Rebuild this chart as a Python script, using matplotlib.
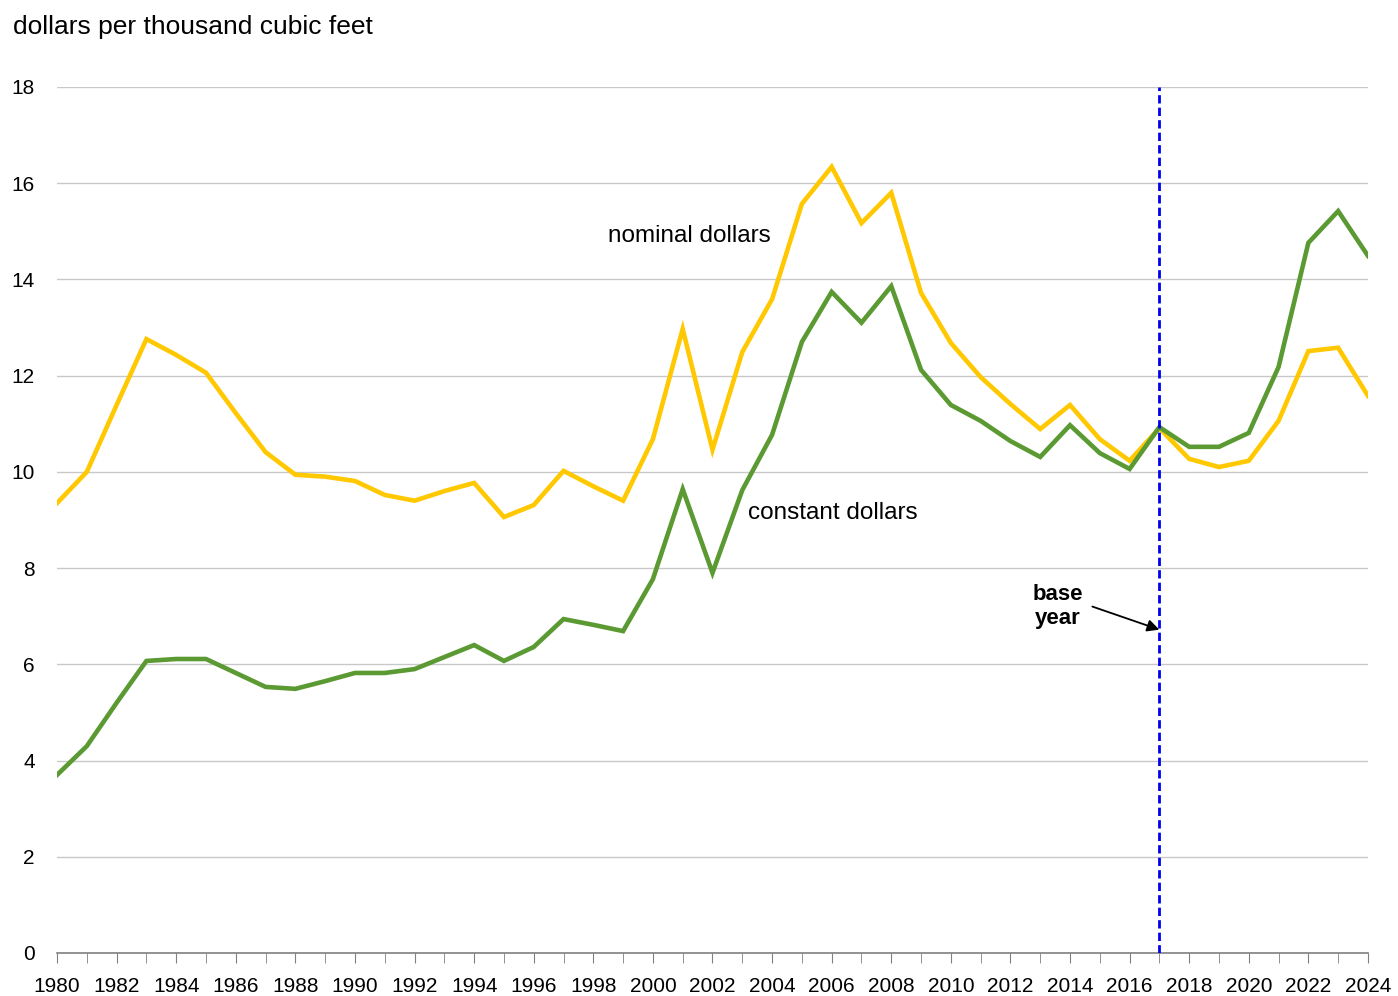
import numpy as np
import matplotlib
matplotlib.use("Agg")
import matplotlib.pyplot as plt

years = np.arange(1980, 2025)

nominal = [9.35, 10.0, 11.39, 12.76, 12.43, 12.06, 11.22, 10.41, 9.94, 9.9,
           9.81, 9.52, 9.4, 9.6, 9.77, 9.06, 9.31, 10.02, 9.7, 9.4,
           10.68, 12.97, 10.46, 12.49, 13.59, 15.57, 16.34, 15.17, 15.8, 13.72,
           12.68, 11.97, 11.41, 10.89, 11.39, 10.68, 10.23, 10.91, 10.27, 10.1,
           10.23, 11.06, 12.51, 12.58, 11.58]

constant = [3.7, 4.3, 5.2, 6.07, 6.11, 6.11, 5.82, 5.53, 5.49, 5.65,
            5.82, 5.82, 5.9, 6.15, 6.4, 6.07, 6.36, 6.94, 6.82, 6.69,
            7.77, 9.64, 7.9, 9.62, 10.77, 12.7, 13.74, 13.1, 13.86, 12.12,
            11.39, 11.06, 10.64, 10.31, 10.97, 10.39, 10.06, 10.93, 10.52, 10.52,
            10.81, 12.18, 14.76, 15.42, 14.49]

base_year = 2017

plt.rcParams['font.family'] = ['Liberation Sans', 'DejaVu Sans']

fig = plt.figure(figsize=(13.98, 9.96), dpi=100)
ax = fig.add_axes([0.0408, 0.0432, 0.9377, 0.8695])

ax.plot(years, nominal, color="#FFC800", lw=3.3, solid_joinstyle="miter", zorder=3)
ax.plot(years, constant, color="#5B9A33", lw=3.3, solid_joinstyle="miter", zorder=4)

ax.axvline(base_year, ymin=0, ymax=1, color="#0000EE", lw=2, ls=(0, (3, 1.5)), zorder=5)

ax.set_xlim(1980, 2024)
ax.set_ylim(0, 18)
ax.set_yticks(np.arange(0, 19, 2))
ax.set_xticks(np.arange(1980, 2025, 2))
ax.set_xticks(years, minor=True)
ax.grid(axis="y", color="#C8C8C8", lw=1)
ax.set_axisbelow(True)

for s in ["left", "right", "top"]:
    ax.spines[s].set_visible(False)
ax.spines["bottom"].set_color("#808080")
ax.spines["bottom"].set_linewidth(1.2)
ax.tick_params(axis="y", length=0, labelsize=15, pad=16)
ax.tick_params(axis="x", which="both", direction="out", length=7, color="#808080",
               labelsize=15, pad=10)

ax.text(1998.5, 14.9, "nominal dollars", fontsize=17.5, ha="left", va="center")
ax.text(2003.2, 9.15, "constant dollars", fontsize=17.5, ha="left", va="center")
ax.text(2013.6, 7.2, "base\nyear", fontsize=16, fontweight="bold", ha="center",
        va="center", linespacing=1.2)
ax.annotate("", xy=(base_year, 6.72), xytext=(2014.75, 7.2),
            arrowprops=dict(arrowstyle="-|>", color="black", lw=1.3, mutation_scale=18,
                            shrinkA=0, shrinkB=0))

fig.text(0.009, 0.973, "dollars per thousand cubic feet", fontsize=19, ha="left", va="center")

fig.savefig("out.png", dpi=100)
